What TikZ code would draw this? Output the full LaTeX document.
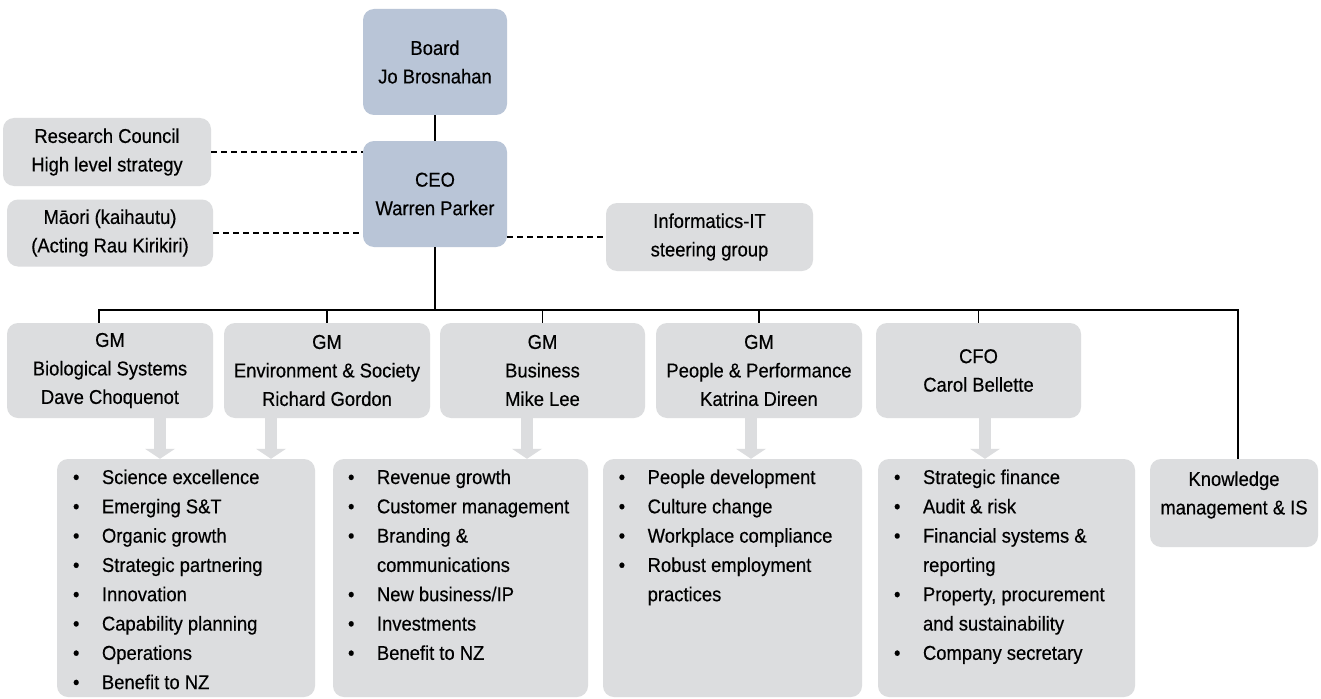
\documentclass[tikz,border=0pt]{standalone}
\usepackage{fontspec}
\setmainfont{Liberation Sans}[FakeStretch=0.92,FakeBold=0.4]
\usetikzlibrary{arrows.meta}
\definecolor{boxgray}{HTML}{DCDDDF}
\definecolor{boxblue}{HTML}{B9C5D7}
\newcommand\bul{\makebox[29pt][l]{\textbullet}}
\begin{document}
\begin{tikzpicture}[x=1pt,y=-1pt,
  every node/.style={font=\fontsize{20}{28.5}\selectfont, inner sep=0pt},
  graybox/.style={rounded corners=11pt, fill=boxgray, align=center},
  bluebox/.style={rounded corners=11pt, fill=boxblue, align=center},
  listtext/.style={font=\fontsize{20}{29.3}\selectfont, anchor=base west},
  link/.style={line width=1.2pt},
  dotlink/.style={line width=1.1pt, dash pattern=on 6pt off 4pt},
  flow/.style={line width=12pt, draw=boxgray,
    -{Triangle[width=30pt,length=10pt,line width=0pt]}}
]
\useasboundingbox[fill=white] (0,0) rectangle (1321,698);

% top level
\node[bluebox, minimum width=144pt, minimum height=106pt] (board) at (435,62) {Board\\Jo Brosnahan};
\node[bluebox, minimum width=144pt, minimum height=106pt] (ceo) at (435,194) {CEO\\Warren Parker};
\node[graybox, minimum width=208pt, minimum height=68pt] (rc) at (107,152) {Research Council\\High level strategy};
\node[graybox, minimum width=206pt, minimum height=67pt] (maori) at (110,233) {Māori (kaihautu)\\(Acting Rau Kirikiri)};
\node[graybox, minimum width=207pt, minimum height=68pt] (info) at (709.5,237) {Informatics-IT\\steering group};

% general managers
\node[graybox, minimum width=206pt, minimum height=95pt] (gm1) at (110,370.5) {GM\\Biological Systems\\Dave Choquenot};
\node[graybox, minimum width=206pt, minimum height=95pt] (gm2) at (327,370.5) {GM\\Environment \& Society\\Richard Gordon};
\node[graybox, minimum width=205pt, minimum height=95pt] (gm3) at (542.5,370.5) {GM\\Business\\Mike Lee};
\node[graybox, minimum width=206pt, minimum height=95pt] (gm4) at (759,370.5) {GM\\People \& Performance\\Katrina Direen};
\node[graybox, minimum width=205pt, minimum height=95pt] (cfo) at (978.5,370.5) {CFO\\Carol Bellette};

% responsibility boxes
\node[graybox, minimum width=258pt, minimum height=238pt] (bxA) at (186,578) {};
\node[graybox, minimum width=255pt, minimum height=238pt] (bxB) at (460.5,578) {};
\node[graybox, minimum width=259pt, minimum height=238pt] (bxC) at (732.5,578) {};
\node[graybox, minimum width=257pt, minimum height=238pt] (bxD) at (1006.5,578) {};
\node[graybox, minimum width=168pt, minimum height=88pt] (kn) at (1234,503) {};
\node[align=center] (kntext) at (1234,495) {Knowledge\\management \& IS};

\node[listtext] (lstA) at (72.8,484) {\begin{tabular}[t]{@{}l@{}l@{}}
\bul & Science excellence\\
\bul & Emerging S\&T\\
\bul & Organic growth\\
\bul & Strategic partnering\\
\bul & Innovation\\
\bul & Capability planning\\
\bul & Operations\\
\bul & Benefit to NZ
\end{tabular}};
\node[listtext] (lstB) at (347.8,484) {\begin{tabular}[t]{@{}l@{}l@{}}
\bul & Revenue growth\\
\bul & Customer management\\
\bul & Branding \&\\
     & communications\\
\bul & New business/IP\\
\bul & Investments\\
\bul & Benefit to NZ
\end{tabular}};
\node[listtext] (lstC) at (618.5,484) {\begin{tabular}[t]{@{}l@{}l@{}}
\bul & People development\\
\bul & Culture change\\
\bul & Workplace compliance\\
\bul & Robust employment\\
     & practices
\end{tabular}};
\node[listtext] (lstD) at (893.8,484) {\begin{tabular}[t]{@{}l@{}l@{}}
\bul & Strategic finance\\
\bul & Audit \& risk\\
\bul & Financial systems \&\\
     & reporting\\
\bul & Property, procurement\\
     & and sustainability\\
\bul & Company secretary
\end{tabular}};

% reporting lines
\coordinate (busL) at (99,310);
\coordinate (busR) at (1238,310);
\draw[link] (board.south) -- (ceo.north);
\draw[link] (ceo.south) -- (ceo.south |- busL);
\draw[link] (gm1.north -| busL) -- (busL) -- (busR) -- (busR |- kn.north);
\draw[link] (gm2.north) -- (gm2.north |- busL);
\draw[link] (gm3.north) -- (gm3.north |- busL);
\draw[link] (gm4.north) -- (gm4.north |- busL);
\draw[link] (cfo.north) -- (cfo.north |- busL);

% advisory links
\draw[dotlink] (rc.east) -- (rc.east -| ceo.west);
\draw[dotlink] (maori.east) -- (maori.east -| ceo.west);
\draw[dotlink] (ceo.east |- info.west) -- (info.west);

% block arrows to responsibilities
\coordinate (f1) at (160,0);
\coordinate (f2) at (271,0);
\coordinate (f3) at (527,0);
\coordinate (f4) at (751,0);
\coordinate (f5) at (985,0);
\draw[flow] (gm1.south -| f1) -- (bxA.north -| f1);
\draw[flow] (gm2.south -| f2) -- (bxA.north -| f2);
\draw[flow] (gm3.south -| f3) -- (bxB.north -| f3);
\draw[flow] (gm4.south -| f4) -- (bxC.north -| f4);
\draw[flow] (cfo.south -| f5) -- (bxD.north -| f5);
\end{tikzpicture}
\end{document}
